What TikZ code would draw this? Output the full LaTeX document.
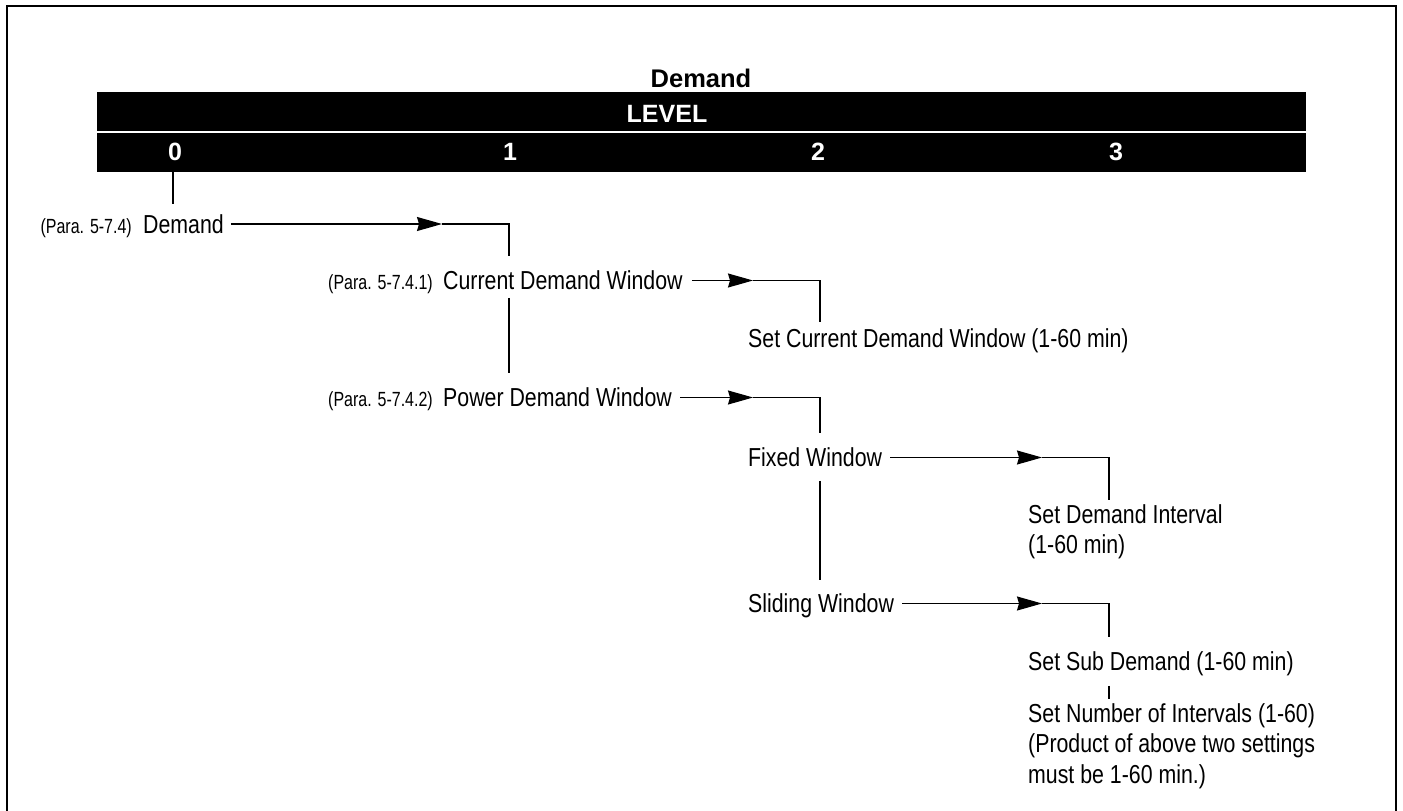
\documentclass[tikz,border=0pt]{standalone}
\usepackage{fontspec}
\setmainfont{Liberation Sans}
\newfontfamily\narrowfont[FakeStretch=0.82]{Liberation Sans}
\newfontfamily\parafont[FakeStretch=0.78]{Liberation Sans}
\usetikzlibrary{arrows.meta, positioning}

\tikzset{
  item/.style={inner sep=0pt, anchor=west, text height=18.5pt, text depth=0pt, font=\narrowfont\fontsize{26}{30}\selectfont},
  block/.style={inner sep=0pt, anchor=north west, align=left, font=\narrowfont\fontsize{26}{30.5}\selectfont},
  para/.style={inner sep=0pt, text height=14.5pt, text depth=0pt, font=\parafont\fontsize{20.5}{22}\selectfont},
  lvl/.style={text=white, inner sep=0pt, font=\bfseries\fontsize{25}{30}\selectfont},
  link/.style={line width=1.3pt},
  arr/.style={line width=1.3pt, -{Stealth[length=25pt, width=14pt, inset=2pt]}},
}

\begin{document}
\begin{tikzpicture}[x=1pt, y=-1pt]
\useasboundingbox (0,0) rectangle (1403,811);
% frame, open at the bottom
\draw[line width=2pt] (7,811) -- (7,6) -- (1396,6) -- (1396,811);

% title and level bar
\node[font=\bfseries\fontsize{25.5}{30}\selectfont, inner sep=0pt] (title) at (701,78) {Demand};
\node[fill=black, minimum width=1209pt, minimum height=80pt, inner sep=0pt] (bar) at (701.5,132) {};
\draw[white, line width=1.2pt] (bar.west) -- (bar.east);
\node[lvl] (level) at (667,114) {LEVEL};
\node[lvl] (lv0) at (175,152) {0};
\node[lvl] (lv1) at (510,152) {1};
\node[lvl] (lv2) at (818,152) {2};
\node[lvl] (lv3) at (1116,152) {3};

% columns of the tree
\coordinate (c0) at (173,0);
\coordinate (c1) at (509,0);
\coordinate (c2) at (820,0);
\coordinate (c3) at (1109,0);

% menu items
\node[item] (demand) at (143,224) {Demand};
\node[para, base left=11pt of demand] (p0) {(Para. 5-7.4)};
\node[item] (cdw) at (443,280.5) {Current Demand Window};
\node[para, base left=10pt of cdw] (p1) {(Para. 5-7.4.1)};
\node[item] (scdw) at (748,338) {Set Current Demand Window (1-60 min)};
\node[item] (pdw) at (443,397.5) {Power Demand Window};
\node[para, base left=10pt of pdw] (p2) {(Para. 5-7.4.2)};
\node[item] (fixed) at (748,457.5) {Fixed Window};
\node[block] (sdi) at (1028,504) {Set Demand Interval\\(1-60 min)};
\node[item] (sliding) at (748,603.5) {Sliding Window};
\node[item] (ssd) at (1028,661.5) {Set Sub Demand (1-60 min)};
\node[block] (sni) at (1028,703) {Set Number of Intervals (1-60)\\(Product of above two settings\\must be 1-60 min.)};

% connectors
\draw[link] (c0 |- bar.south) -- ([yshift=11pt]c0 |- demand.north);

\coordinate (t0) at ([xshift=-67pt]c1 |- demand.east);
\draw[arr] ([xshift=7pt]demand.east) -- (t0);
\draw[link] (t0) -| ([yshift=15pt]c1 |- cdw.north);

\coordinate (t1) at ([xshift=-67pt]c2 |- cdw.east);
\draw[arr] ([xshift=9pt]cdw.east) -- (t1);
\draw[link] (t1) -| ([yshift=7pt]c2 |- scdw.north);

\draw[link] ([yshift=-8pt]c1 |- cdw.south) -- ([yshift=15pt]c1 |- pdw.north);

\coordinate (t2) at ([xshift=-67pt]c2 |- pdw.east);
\draw[arr] ([xshift=8pt]pdw.east) -- (t2);
\draw[link] (t2) -| ([yshift=15pt]c2 |- fixed.north);

\coordinate (t3) at ([xshift=-67pt]c3 |- fixed.east);
\draw[arr] ([xshift=8pt]fixed.east) -- (t3);
\draw[link] (t3) -| ([yshift=4pt]c3 |- sdi.north);

\draw[link] ([yshift=-14pt]c2 |- fixed.south) -- ([yshift=14pt]c2 |- sliding.north);

\coordinate (t4) at ([xshift=-67pt]c3 |- sliding.east);
\draw[arr] ([xshift=8pt]sliding.east) -- (t4);
\draw[link] (t4) -| ([yshift=15pt]c3 |- ssd.north);

\draw[link] ([yshift=-15pt]c3 |- ssd.south) -- ([yshift=4pt]c3 |- sni.north);
\end{tikzpicture}
\end{document}
